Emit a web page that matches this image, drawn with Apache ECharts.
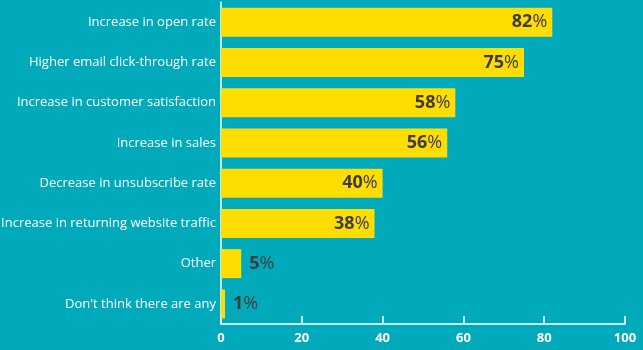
<!DOCTYPE html>
<html><head><meta charset="utf-8">
<script src="https://cdn.jsdelivr.net/npm/echarts@6/dist/echarts.min.js"></script>
<style>html,body{margin:0;padding:0;background:#01aaba;}#c{width:643px;height:350px;}</style>
</head><body><div id="c"></div>
<script>
const categories = ["Increase in open rate","Higher email click-through rate","Increase in customer satisfaction","Increase in sales","Decrease in unsubscribe rate","Increase in returning website traffic","Other","Don't think there are any"];
const values = [82,75,58,56,40,38,5,1];
const xTicks = {min:0,max:100,interval:20};

const chart = echarts.init(document.getElementById('c'));
chart.setOption({
  backgroundColor:'#01aaba',
  animation:false,
  grid:{left:221,right:18,top:2,bottom:26,containLabel:false,outerBoundsMode:'none'},
  xAxis:{type:'value',min:xTicks.min,max:xTicks.max,interval:xTicks.interval,
    axisLine:{show:true,lineStyle:{color:'#ffffff',width:1.5}},
    axisTick:{show:true,inside:true,length:8,lineStyle:{color:'#ffffff',width:1.5}},
    splitLine:{show:false},
    axisLabel:{color:'#ffffff',fontFamily:'Open Sans',fontWeight:'bold',fontSize:13,margin:8}},
  yAxis:{type:'category',data:categories,inverse:true,
    axisLine:{show:true,lineStyle:{color:'#ffffff',width:1.5}},
    axisTick:{show:false},
    axisLabel:{color:'#ffffff',fontFamily:'Open Sans',fontSize:13,margin:5}},
  series:[{type:'bar',barWidth:29,
    data:values.map(v=>({value:v,label:{position:v>20?'insideRight':'right',distance:v>20?5:8}})),
    itemStyle:{color:'#ffdd00'},
    label:{show:true,formatter:p=>'{a|'+p.value+'}{b|%}',
      rich:{a:{fontFamily:'Open Sans',fontWeight:'bold',fontSize:18,color:'#3d3d3d'},
            b:{fontFamily:'Open Sans',fontSize:18,color:'#3d3d3d'}}}}]
});
</script></body></html>
